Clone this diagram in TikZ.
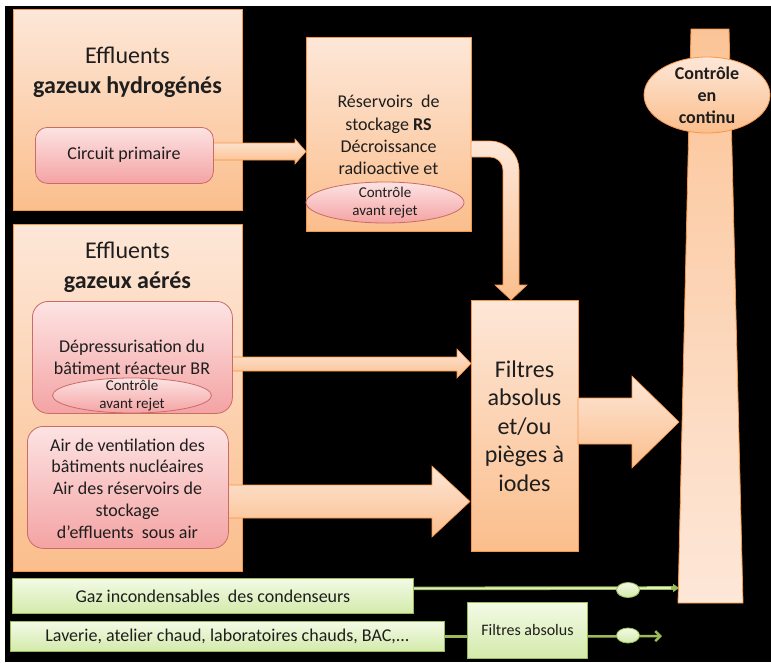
\documentclass[tikz,border=0pt]{standalone}
\usepackage{fontspec}
\setmainfont{Carlito}
\usetikzlibrary{calc,arrows.meta,shapes.geometric}
\definecolor{orTop}{HTML}{FDE7D8}
\definecolor{orBot}{HTML}{FBBE8C}
\definecolor{orBd}{HTML}{F79646}
\definecolor{pkTop}{HTML}{FDE3E3}
\definecolor{pkBot}{HTML}{F4A3A3}
\definecolor{pkBd}{HTML}{C96B69}
\definecolor{grTop}{HTML}{F3FAE6}
\definecolor{grBot}{HTML}{D3EAAA}
\definecolor{grBd}{HTML}{9BBB59}
\definecolor{grLight}{HTML}{E2F0C8}
\definecolor{txtc}{HTML}{1E1E1E}
\tikzset{
  bigbox/.style={draw=orBd, line width=0.8pt, top color=orTop, bottom color=orBot, inner sep=0pt, anchor=north west},
  pinkbox/.style={draw=pkBd, line width=0.8pt, top color=pkTop, bottom color=pkBot, rounded corners=12pt, inner sep=0pt, anchor=north west},
  pinkell/.style={ellipse, draw=pkBd, line width=0.8pt, top color=pkTop, bottom color=pkBot, inner sep=0pt},
  orell/.style={ellipse, draw=orBd, line width=0.8pt, top color=orTop, bottom color=orBot, inner sep=0pt},
  greenbox/.style={draw=grBd, line width=0.8pt, top color=grTop, bottom color=grBot, inner sep=0pt, anchor=north west},
  greenell/.style={ellipse, draw=grBd, line width=0.8pt, top color=grTop, bottom color=grBot, inner sep=0pt, minimum width=23pt, minimum height=15pt},
  barrow/.style={draw=orBd, line width=0.6pt, top color=orTop, bottom color=orBot},
  txt/.style={text=txtc, align=center, inner sep=0pt},
  body/.style={txt, font=\fontsize{18}{21.6}\selectfont},
  big/.style={txt, font=\fontsize{24}{30}\selectfont},
  small/.style={txt, font=\fontsize{15}{18}\selectfont},
  gtxt/.style={txt, font=\fontsize{16}{19}\selectfont},
  gline/.style={draw=grBd, line width=2.5pt},
}
\begin{document}
\begin{tikzpicture}[x=1pt,y=-1pt]
\useasboundingbox (0,0) rectangle (771,662);
\fill[white] (0,0) rectangle (771,662);
\fill[black] (5,6) rectangle (771,662);

% chimney
\path[draw=orBd, line width=0.8pt, top color=orBot!85!orTop, bottom color=orTop]
  (691,29) -- (729,29) -- (743,603) -- (678,603) -- cycle;
\coordinate (chimG) at (679,588);

% big boxes
\node[bigbox, minimum width=229pt, minimum height=201pt] (hyd) at (13,9) {};
\node[bigbox, minimum width=229pt, minimum height=347pt] (aer) at (13,224) {};
\node[bigbox, minimum width=165pt, minimum height=194pt] (rs) at (306,37) {};
\node[bigbox, minimum width=107pt, minimum height=251pt] (fil) at (471,300) {};

% block arrows
\path[barrow] (213,143) -- (295,143) -- (295,139) -- (306,151.5) -- (295,164) -- (295,160) -- (213,160) -- cycle;
\path[barrow] (471,141) -- (490,141) arc[start angle=-90, end angle=0, radius=29] -- (519,285) -- (527,285)
  -- (511,300) -- (495,285) -- (503,285) -- (503,170) arc[start angle=0, end angle=-90, radius=13] -- (471,157) -- cycle;
\path[barrow] (230,357) -- (457,357) -- (457,349) -- (471,363.5) -- (457,378) -- (457,371) -- (230,371) -- cycle;
\path[barrow] (226,485) -- (432,485) -- (432,466) -- (470,501.5) -- (432,537) -- (432,518) -- (226,518) -- cycle;
\path[barrow] (578,398) -- (632,398) -- (632,376) -- (679,422) -- (632,468) -- (632,444) -- (578,444) -- cycle;

% pink boxes
\node[pinkbox, minimum width=178pt, minimum height=56pt] (cp) at (35,127) {};
\node[pinkbox, rounded corners=16pt, minimum width=200pt, minimum height=112pt] (dep) at (32,301) {};
\node[pinkbox, rounded corners=16pt, minimum width=201pt, minimum height=122pt] (air) at (27,426) {};
\node[pinkell, minimum width=158pt, minimum height=41pt] (crs) at (385,202.5) {};
\node[pinkell, minimum width=159pt, minimum height=35pt] (cdep) at (132,395.5) {};
\node[orell, minimum width=126pt, minimum height=76pt] (cont) at (707,95) {};

% texts
\node[big] (thyd) at (127.5,72) {Effluents\\\textbf{gazeux hydrogénés}};
\node[big] (taer) at (127.5,267) {Effluents\\\textbf{gazeux aérés}};
\node[body] (tcp) at (124,155) {Circuit primaire};
\node[body, font=\fontsize{18}{22.2}\selectfont] (trs) at (388.5,135) {Réservoirs~~de\\stockage \textbf{RS}\\Décroissance\\radioactive et};
\node[small] (tcrs) at (crs) {Contrôle\\avant rejet};
\node[body] (tdep) at (132,357.5) {Dépressurisation du\\bâtiment réacteur BR};
\node[small] (tcdep) at (132,396) {Contrôle\\avant rejet};
\node[body, font=\fontsize{18}{21.75}\selectfont] (tair) at (127.5,488.5) {Air de ventilation des\\bâtiments nucléaires\\Air des réservoirs de\\stockage\\d’effluents~~sous air};
\node[big, font=\fontsize{24}{28.5}\selectfont] (tfil) at (524.5,426) {Filtres\\absolus\\et/ou\\pièges à\\iodes};
\node[body, font=\bfseries\fontsize{18}{22}\selectfont] (tcont) at (cont) {Contrôle\\en\\continu};

% green part
\node[greenbox, minimum width=401pt, minimum height=35pt] (gaz) at (12,578) {};
\node[gtxt, font=\fontsize{18}{20}\selectfont] (tgaz) at (gaz) {Gaz incondensables~~des condenseurs};
\node[greenbox, minimum width=434pt, minimum height=30pt] (lav) at (10,621) {};
\node[gtxt, font=\fontsize{18}{20}\selectfont] (tlav) at (lav) {Laverie, atelier chaud, laboratoires chauds, BAC,...};
\node[greenbox, minimum width=120pt, minimum height=56pt] (fa) at (467,602) {};
\node[gtxt] (tfa) at (fa) {Filtres absolus};

\coordinate (lend) at (662,636);
\draw[draw=grBd, line width=1pt, double=grLight, double distance=1.6pt] ([yshift=7.5pt]gaz.east) -- ([xshift=-6pt]chimG);
\draw[grBd, line width=1.5pt, -{Triangle[length=6pt,width=8pt]}] ([xshift=-8pt]chimG) -- (chimG);
\draw[gline] (lav.east) -- (lav.east -| fa.west);
\draw[gline, -{Straight Barb[length=5pt,width=10pt,line width=2.5pt]}] (lav.east -| fa.east) -- (lend);
\node[greenell] (c1) at (628,590) {};
\node[greenell] (c2) at (628,635.5) {};
\end{tikzpicture}
\end{document}
